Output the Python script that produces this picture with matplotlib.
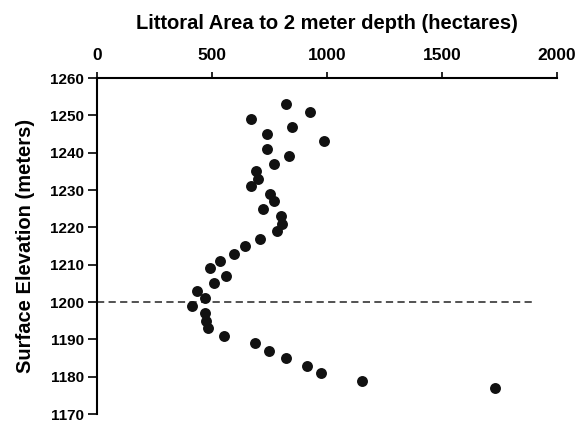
import matplotlib.pyplot as plt

# Dados
elevacao = [1253, 1251, 1249, 1247, 1245, 1243, 1241, 1239, 1237, 1235,
            1233, 1231, 1229, 1227, 1225, 1223, 1221, 1219, 1217, 1215,
            1213, 1211, 1209, 1207, 1205, 1203, 1201, 1199, 1197, 1195,
            1193, 1191, 1189, 1187, 1185, 1183, 1181, 1179, 1177]
area = [823, 924, 668, 848, 739, 988, 739, 836, 770, 690,
        698, 669, 753, 770, 723, 800, 803, 781, 708, 645,
        595, 536, 490, 563, 510, 437, 471, 411, 471, 475,
        484, 552, 685, 747, 823, 914, 976, 1152, 1731]
x_ticks = [0, 500, 1000, 1500, 2000]
y_ticks = [1170, 1180, 1190, 1200, 1210, 1220, 1230, 1240, 1250, 1260]
ref_elev = 1200
ref_x_max = 1900

plt.rcParams['font.family'] = ['Liberation Sans', 'DejaVu Sans']
plt.rcParams['font.weight'] = 'bold'

fig = plt.figure(figsize=(5.79, 4.23), dpi=100)
ax = fig.add_axes([0.1675, 0.021, 0.7945, 0.7946])

ax.scatter(area, elevacao, s=62, color='#111111', zorder=3, linewidths=0)
ax.plot([0, ref_x_max], [ref_elev, ref_elev], linestyle=(0, (4, 2.4)),
        color='#444444', linewidth=1.3, zorder=2)

ax.set_xlim(0, 2000)
ax.set_ylim(1170, 1260)
ax.set_xticks(x_ticks)
ax.set_yticks(y_ticks)

ax.xaxis.tick_top()
ax.xaxis.set_label_position('top')
ax.spines['bottom'].set_visible(False)
ax.spines['right'].set_visible(False)
ax.spines['top'].set_linewidth(1.5)
ax.spines['left'].set_linewidth(1.5)
ax.tick_params(axis='x', direction='out', length=4.5, width=1.2,
               labelsize=12.5, pad=6)
ax.tick_params(axis='y', direction='out', length=6.5, width=1.2,
               labelsize=11, pad=3)

ax.set_xlabel('Littoral Area to 2 meter depth (hectares)', fontsize=14.5,
              fontweight='bold', labelpad=14)
ax.set_ylabel('Surface Elevation (meters)', fontsize=14.5,
              fontweight='bold', labelpad=11)

fig.savefig('out.png', dpi=100)
